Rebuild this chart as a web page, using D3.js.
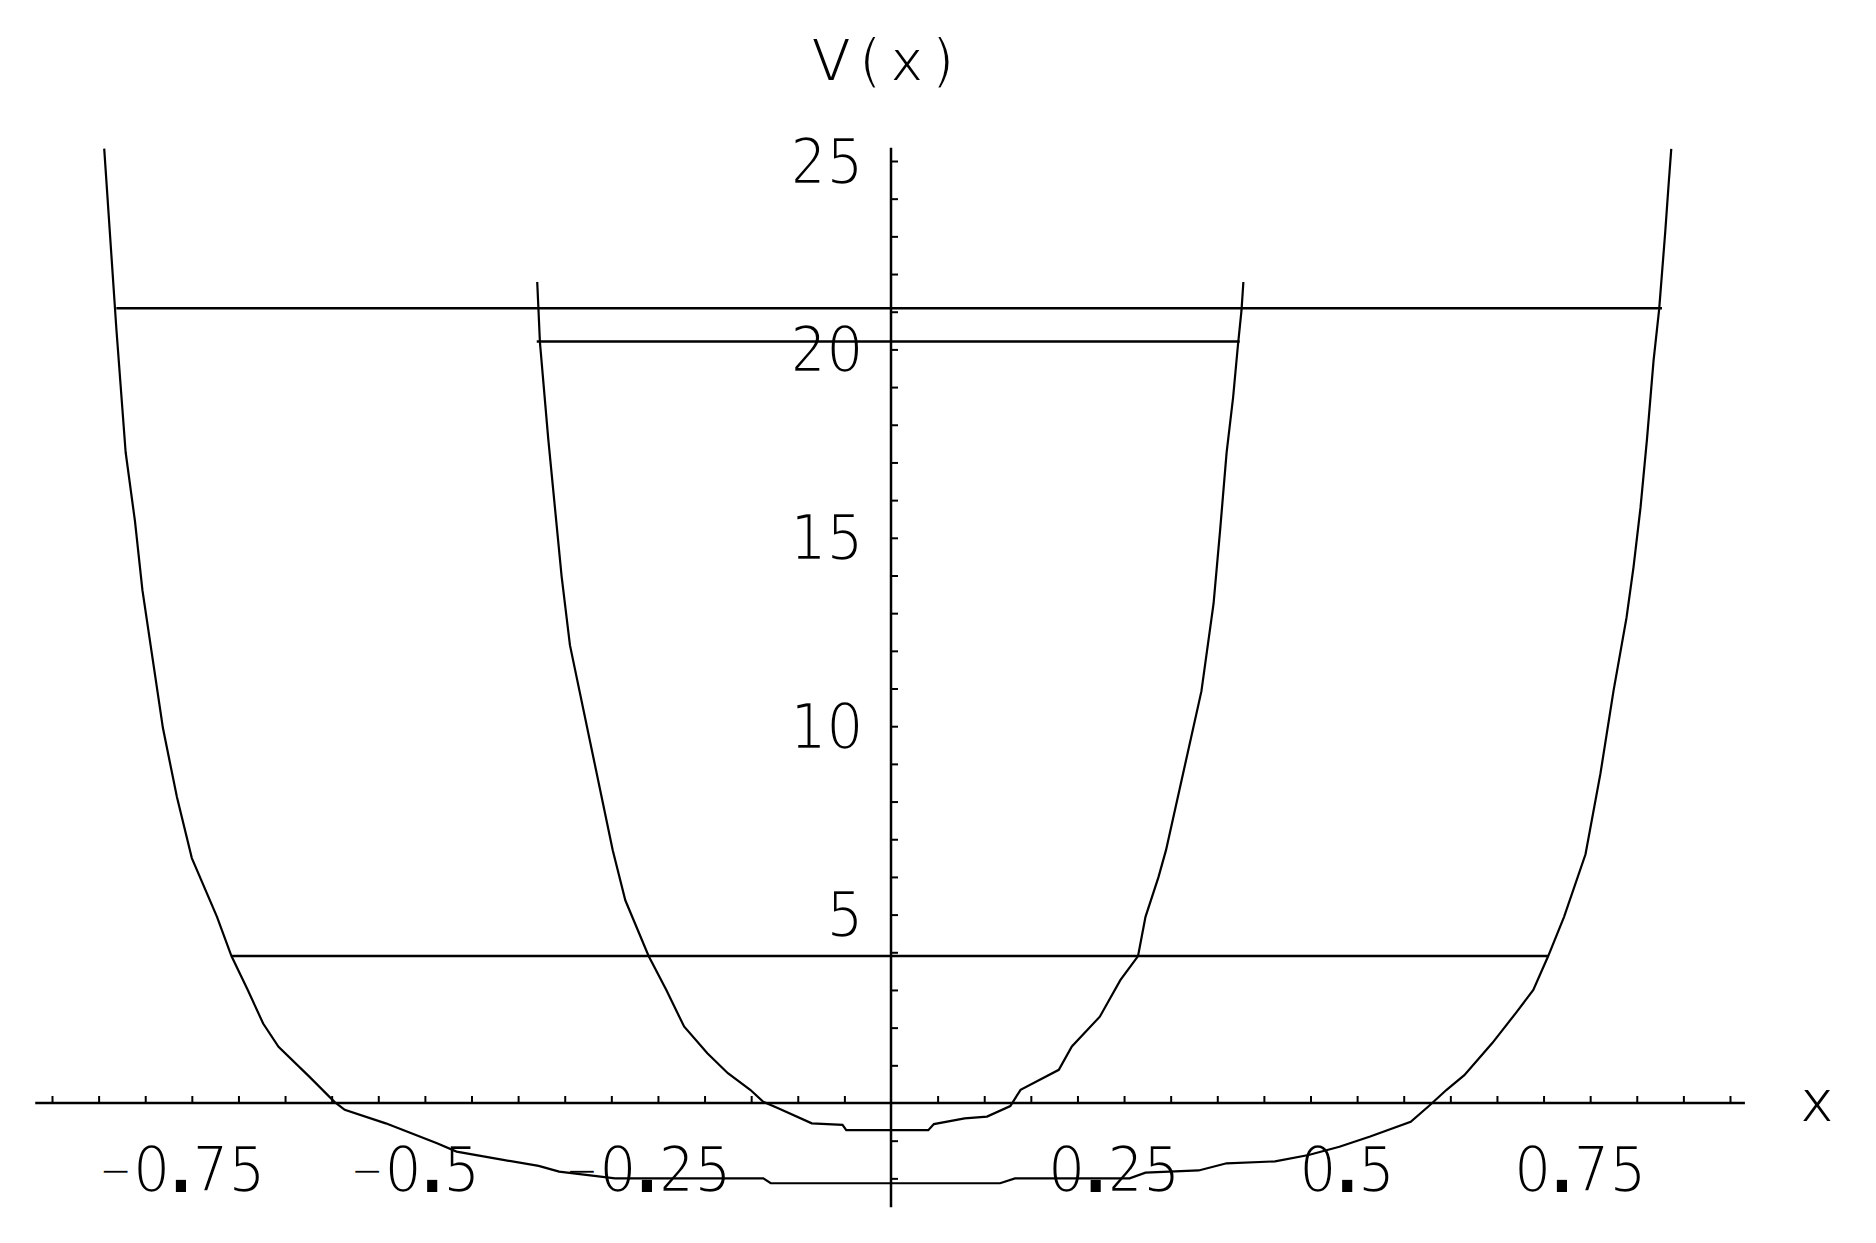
<!DOCTYPE html>
<html>
<head>
<meta charset="utf-8">
<script src="https://cdn.jsdelivr.net/npm/d3@7"></script>
<style>
  html, body { margin: 0; padding: 0; background: #fff; }
  svg { display: block; }
</style>
</head>
<body>
<svg id="chart" width="1876" height="1243"></svg>
<script>
// wide well, points
const outerX = [-0.844, -0.831, -0.821, -0.811, -0.803, -0.792, -0.781, -0.766, -0.750, -0.723,
  -0.7075, -0.690, -0.6735, -0.657, -0.624, -0.597, -0.586, -0.542, -0.487, -0.466,
  -0.416, -0.378, -0.356, -0.296, -0.137, -0.129, 0.117, 0.133, 0.256, 0.273,
  0.330, 0.360, 0.412, 0.448, 0.481, 0.514, 0.5575, 0.577, 0.596, 0.615,
  0.645, 0.670, 0.689, 0.705, 0.722, 0.745, 0.761, 0.775, 0.789, 0.7965,
  0.804, 0.811, 0.818, 0.824, 0.8305, 0.834, 0.837];
const outerV = [25.33, 20.56, 17.27, 15.44, 13.61, 11.78, 9.95, 8.12, 6.50, 4.94,
  3.90, 3.00, 2.11, 1.49, 0.70, 0.03, -0.18, -0.54, -1.07, -1.29,
  -1.51, -1.67, -1.82, -2.00, -2.00, -2.13, -2.13, -2.00, -2.00, -1.85,
  -1.79, -1.60, -1.55, -1.38, -1.16, -0.89, -0.50, -0.08, 0.35, 0.74,
  1.59, 2.38, 3.00, 3.90, 4.94, 6.60, 8.74, 10.93, 12.88, 14.22,
  15.80, 17.63, 19.70, 21.06, 23.11, 24.33, 25.32];

// narrow well
const innerX = [-0.3795, -0.3766, -0.3677, -0.3605, -0.3533, -0.3444, -0.2985, -0.285, -0.260, -0.241,
  -0.222, -0.197, -0.175, -0.151, -0.137, -0.121, -0.085, -0.052, -0.048, 0.040,
  0.046, 0.079, 0.103, 0.128, 0.139, 0.180, 0.194, 0.224, 0.246, 0.265,
  0.273, 0.287, 0.295, 0.333, 0.346, 0.353, 0.360, 0.367, 0.372, 0.376, 0.378];
const innerV = [21.79, 20.19, 17.63, 15.80, 13.97, 12.15, 6.71, 5.38, 3.90, 3.00,
  2.03, 1.32, 0.79, 0.35, 0.03, -0.14, -0.54, -0.58, -0.72, -0.72,
  -0.56, -0.41, -0.36, -0.08, 0.35, 0.88, 1.50, 2.29, 3.26, 3.90,
  4.94, 6.00, 6.71, 10.93, 13.25, 15.19, 17.26, 18.73, 20.07, 21.04, 21.79];

// energy levels and where they meet the walls
const levelE = [21.09, 20.21, 3.90];
const levelFrom = [-0.831, -0.380, -0.7075];
const levelTo = [0.827, 0.374, 0.7054];

const xTickValues = [-0.75, -0.5, -0.25, 0.25, 0.5, 0.75];
const xTickLabels = ["\u22120.75", "\u22120.5", "\u22120.25", "0.25", "0.5", "0.75"];
const yTickValues = [5, 10, 15, 20, 25];
const yTickLabels = ["5", "10", "15", "20", "25"];

const digit_font = "'DejaVu Sans Condensed', 'DejaVu Sans', sans-serif";
const letter_font = "'DejaVu Sans', sans-serif";
const num_size = 64;
const line_w = 2.5;

const svg = d3.select("#chart");
svg.append("rect").attr("width", 1876).attr("height", 1243).attr("fill", "#fff");

const x = d3.scaleLinear().domain([-0.9, 0.9]).range([52, 1730]);
const y = d3.scaleLinear().domain([0, 25]).range([1103, 161]);

const xMinor = d3.range(-18, 19).filter(i => i !== 0).map(i => +(i * 0.05).toFixed(2));
const yMinor = d3.range(-2, 26).filter(i => i !== 0);

// one text per number; glyphs thinned with a white outline, dot kept heavy
function numLabel(txt, px, py, anchor) {
    const t = svg.append("text")
        .attr("x", px).attr("y", py)
        .attr("text-anchor", anchor)
        .attr("font-family", digit_font)
        .attr("font-size", num_size)
        .attr("fill", "#000");
    let lifted = false;
    txt.split(/(\u2212|\.)/).filter(s => s.length).forEach(part => {
        const s = t.append("tspan").text(part);
        if (part === "\u2212") {
            s.attr("font-size", num_size * 0.72).attr("dy", -6)
             .attr("stroke", "#fff").attr("stroke-width", 2);
            lifted = true;
            return;
        }
        if (lifted) { s.attr("dy", 6); lifted = false; }
        if (part === ".") s.attr("font-weight", "bold");
        else s.attr("stroke", "#fff").attr("stroke-width", 2.6);
    });
}

xTickValues.forEach((v, i) => numLabel(xTickLabels[i], x(v) - 10, 1192, "middle"));
yTickValues.forEach((v, i) => numLabel(yTickLabels[i], 863, y(v) + 22.5, "end"));

svg.append("text")
    .attr("x", 887).attr("y", 81)
    .attr("text-anchor", "middle")
    .attr("font-family", letter_font)
    .attr("font-size", 58)
    .attr("letter-spacing", 8)
    .attr("fill", "#000")
    .attr("stroke", "#fff").attr("stroke-width", 2.2)
    .text("V(x)");
svg.append("text")
    .attr("x", 1817).attr("y", 1122)
    .attr("text-anchor", "middle")
    .attr("font-family", letter_font)
    .attr("font-size", 60)
    .attr("fill", "#000")
    .attr("stroke", "#fff").attr("stroke-width", 2.2)
    .text("x");

// axes
svg.append("line")
    .attr("x1", x(-0.918)).attr("x2", x(0.916))
    .attr("y1", y(0)).attr("y2", y(0))
    .attr("stroke", "#000").attr("stroke-width", line_w);
svg.append("line")
    .attr("x1", x(0)).attr("x2", x(0))
    .attr("y1", y(25.35)).attr("y2", y(-2.77))
    .attr("stroke", "#000").attr("stroke-width", line_w);

svg.append("g")
    .attr("transform", `translate(0,${y(0)})`)
    .call(d3.axisBottom(x).tickValues(xMinor).tickSize(-7).tickFormat(""))
    .call(g => g.select(".domain").remove())
    .call(g => g.selectAll(".tick line").attr("stroke-width", 2));

svg.append("g")
    .attr("transform", `translate(${x(0)},0)`)
    .call(d3.axisRight(y).tickValues(yMinor).tickSize(7).tickFormat(""))
    .call(g => g.select(".domain").remove())
    .call(g => g.selectAll(".tick line").attr("stroke-width", 2));

// curves
const path = d3.line().x(d => x(d[0])).y(d => y(d[1]));

svg.append("path")
    .datum(d3.zip(outerX, outerV))
    .attr("d", path)
    .attr("fill", "none").attr("stroke", "#000").attr("stroke-width", 2.2);
svg.append("path")
    .datum(d3.zip(innerX, innerV))
    .attr("d", path)
    .attr("fill", "none").attr("stroke", "#000").attr("stroke-width", 2.2);

svg.selectAll("line.level")
    .data(levelE)
    .join("line")
    .attr("class", "level")
    .attr("x1", (d, i) => x(levelFrom[i]))
    .attr("x2", (d, i) => x(levelTo[i]))
    .attr("y1", d => y(d)).attr("y2", d => y(d))
    .attr("stroke", "#000").attr("stroke-width", line_w);
</script>
</body>
</html>
